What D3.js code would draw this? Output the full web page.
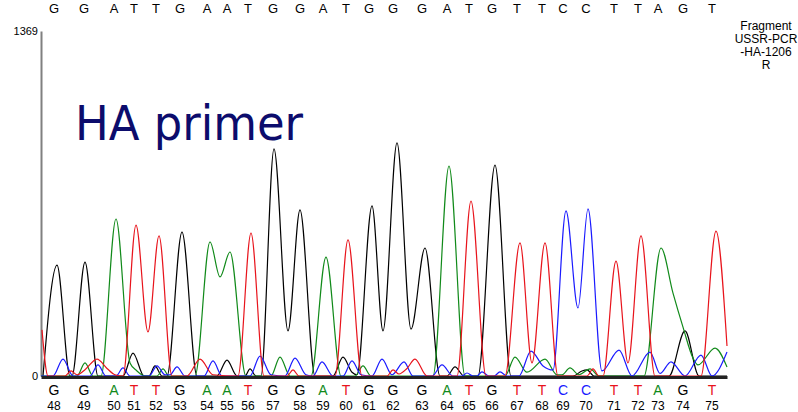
<!DOCTYPE html>
<html>
<head>
<meta charset="utf-8">
<script src="https://cdn.jsdelivr.net/npm/d3@7"></script>
<style>
  body { margin: 0; background: #fff; }
  svg { display: block; }
</style>
</head>
<body>
<svg id="canvas"></svg>
<script>
// base calls, numbers and their scan positions
const bases = ["G","G","A","T","T","G","A","A","T","G","G","A","T","G","G","G","A","T","G","T","T","C","C","T","T","A","G","T"];
const baseNums = [48,49,50,51,52,53,54,55,56,57,58,59,60,61,62,63,64,65,66,67,68,69,70,71,72,73,74,75];
const basePos = [13,43,73,93,115,139,166,186,207,232,259,282,305,328,352,381,406,428,451,476,501,522,545,573,597,617,642,671];

// trace points [scan, signal]
const traceG = [[2,0],[16,440],[29,0],[31,0],[44,452],[57,0],[82,0],[92,91],[103,0],[108,0],[114,40],[121,0],[126,0],[141,571],[156,0],[176,0],[186,63],[196,0],[204,0],[209,28],[215,0],[220,0],[233,901],[247,179],[259,659],[274,0],[292,0],[302,75],[311,15],[316,5],[331,675],[342,179],[356,925],[370,186],[384,508],[399,0],[406,0],[414,36],[423,0],[437,0],[454,837],[470,0],[532,0],[541,20],[546,24],[553,0],[628,0],[644,179],[658,0],[686,0]];
const traceA = [[0,0],[36,0],[44,52],[52,0],[60,0],[75,623],[89,52],[96,20],[104,0],[116,0],[122,28],[128,0],[154,0],[169,532],[179,393],[189,492],[205,0],[230,0],[239,75],[249,0],[270,0],[285,472],[300,0],[314,0],[322,40],[330,0],[392,0],[408,833],[424,0],[464,0],[474,75],[486,15],[504,67],[516,5],[521,5],[529,32],[538,5],[549,28],[558,0],[603,0],[620,508],[632,329],[642,194],[652,71],[657,44],[674,111],[686,36]];
const traceT = [[1,183],[7,0],[24,0],[30,20],[36,5],[44,25],[56,67],[66,30],[74,5],[82,0],[95,599],[107,175],[118,556],[131,0],[146,0],[159,67],[172,5],[197,0],[210,567],[223,0],[246,0],[252,24],[258,0],[294,0],[307,540],[321,0],[346,0],[352,24],[358,8],[366,30],[374,67],[386,0],[416,0],[430,694],[445,0],[464,0],[479,528],[491,52],[504,528],[517,0],[546,0],[552,28],[558,0],[562,0],[575,456],[587,52],[600,556],[614,0],[660,0],[675,575],[686,119]];
const traceC = [[0,0],[12,0],[22,67],[32,0],[49,0],[57,44],[65,0],[75,0],[82,32],[89,0],[108,0],[116,40],[124,5],[129,5],[136,36],[144,0],[163,0],[172,60],[181,0],[209,0],[219,79],[230,5],[244,0],[254,71],[265,5],[272,0],[281,56],[292,0],[302,0],[311,60],[320,5],[331,0],[341,67],[351,5],[363,56],[372,0],[391,0],[401,44],[412,0],[421,0],[426,12],[432,0],[436,0],[441,16],[448,0],[453,0],[459,16],[466,0],[478,0],[490,99],[502,40],[512,24],[525,655],[537,270],[547,663],[561,20],[578,103],[591,0],[609,95],[619,10],[630,56],[644,0],[660,83],[671,0],[686,95]];

const maxSignal = 1369;
const fragmentLabel = ["Fragment","USSR-PCR","-HA-1206","R"];

const width = 798, height = 412;
const svg = d3.select("#canvas").attr("width", width).attr("height", height);

const x = d3.scaleLinear().domain([0, 686]).range([41, 727]);
const y = d3.scaleLinear().domain([0, maxSignal]).range([376, 31]);

const baseColor = { A: "#118a1a", T: "#e8141c", C: "#1a1aff", G: "#000000" };
const narrow = "'Liberation Sans Narrow', 'Arial Narrow', 'Liberation Sans', sans-serif";

// y axis: just the two end labels
const yAxis = svg.append("g")
  .attr("transform", "translate(41,0)")
  .call(d3.axisLeft(y).tickValues([0, maxSignal]).tickFormat(d3.format("d")).tickSize(0).tickPadding(3).tickSizeOuter(0));
yAxis.select(".domain").attr("stroke", "#808080").attr("stroke-width", 2);
yAxis.selectAll("text").attr("font-family", narrow).attr("font-size", 11).attr("fill", "#000");

// traces
const line = d3.line().x(d => x(d[0])).y(d => y(d[1])).curve(d3.curveMonotoneX);
[[traceG, "G"], [traceA, "A"], [traceC, "C"], [traceT, "T"]].forEach(([data, b]) => {
  svg.append("path")
    .datum(data)
    .attr("d", line)
    .attr("fill", "none")
    .attr("stroke", baseColor[b])
    .attr("stroke-width", 1.2);
});

// bottom baseline
const xAxis = svg.append("g")
  .attr("transform", "translate(0,377)")
  .call(d3.axisBottom(x).tickValues([]).tickSizeOuter(0));
xAxis.select(".domain").attr("stroke", "#222").attr("stroke-width", 3);

// top sequence
svg.selectAll(".topbase")
  .data(bases)
  .enter().append("text")
  .attr("class", "topbase")
  .attr("x", (d, i) => x(basePos[i]))
  .attr("y", 13)
  .attr("text-anchor", "middle")
  .attr("font-family", "'Liberation Sans', Arial, sans-serif")
  .attr("font-size", 13)
  .text(d => d);

// bottom colored bases and numbers
svg.selectAll(".botbase")
  .data(bases)
  .enter().append("text")
  .attr("class", "botbase")
  .attr("x", (d, i) => x(basePos[i]))
  .attr("y", 395)
  .attr("text-anchor", "middle")
  .attr("font-family", "'Liberation Sans', Arial, sans-serif")
  .attr("font-size", 14)
  .attr("fill", d => baseColor[d])
  .text(d => d);

svg.selectAll(".basenum")
  .data(baseNums)
  .enter().append("text")
  .attr("class", "basenum")
  .attr("x", (d, i) => x(basePos[i]))
  .attr("y", 410)
  .attr("text-anchor", "middle")
  .attr("font-family", narrow)
  .attr("font-size", 12)
  .text(d => d);

// sample label on the right
svg.append("text")
  .attr("x", 766)
  .attr("y", 30)
  .attr("text-anchor", "middle")
  .attr("font-family", narrow)
  .attr("font-size", 12)
  .selectAll("tspan")
  .data(fragmentLabel)
  .enter().append("tspan")
  .attr("x", 766)
  .attr("dy", (d, i) => i ? 13 : 0)
  .text(d => d);

// annotation
svg.append("text")
  .attr("x", 75)
  .attr("y", 140)
  .attr("font-family", "'DejaVu Sans', sans-serif")
  .attr("font-size", 48)
  .attr("fill", "#0c0c6c")
  .attr("textLength", 228)
  .attr("lengthAdjust", "spacingAndGlyphs")
  .text("HA primer");
</script>
</body>
</html>
